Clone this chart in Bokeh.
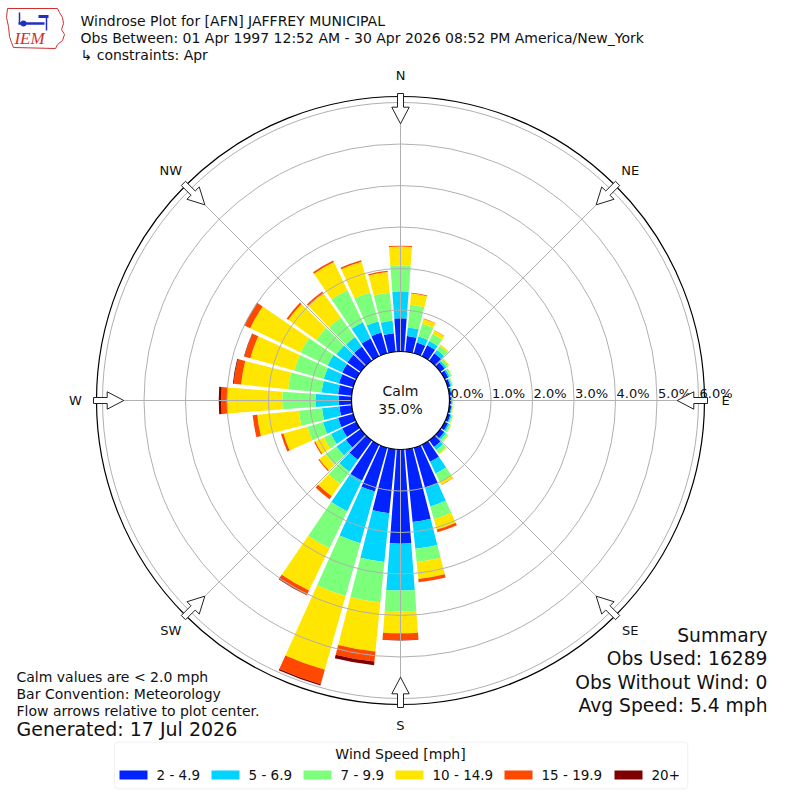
import math
from bokeh.plotting import figure
from bokeh.models import Range1d, BoxAnnotation
from bokeh.core.properties import value
from bokeh.embed import file_html
from bokeh.resources import INLINE

# ---------------- data ----------------
directions = list(range(0, 360, 10))  # compass degrees, meteorological (from)
speed_bins = ["2 - 4.9", "5 - 6.9", "7 - 9.9", "10 - 14.9", "15 - 19.9", "20+"]
bin_colors = ["#0023ff", "#00d4ff", "#7cff7a", "#ffe600", "#ff4800", "#7f0000"]

freq_2_5 = [0.80, 0.38, 0.27, 0.30, 0.22, 0.13, 0.10, 0.07, 0.05, 0.05, 0.05, 0.07,
            0.09, 0.12, 0.20, 0.46, 1.00, 1.76, 2.27, 1.55, 1.10, 0.96, 0.58, 0.44,
            0.38, 0.38, 0.30, 0.31, 0.33, 0.36, 0.38, 0.40, 0.42, 0.48, 0.52, 0.45]
freq_5_7 = [0.65, 0.21, 0.15, 0.11, 0.10, 0.05, 0.04, 0.03, 0.02, 0.02, 0.02, 0.03,
            0.04, 0.05, 0.09, 0.31, 0.47, 0.65, 1.13, 1.18, 1.29, 0.82, 0.35, 0.28,
            0.30, 0.38, 0.42, 0.56, 0.40, 0.38, 0.39, 0.32, 0.28, 0.43, 0.28, 0.30]
freq_7_10 = [0.62, 0.55, 0.32, 0.19, 0.12, 0.07, 0.05, 0.03, 0.02, 0.02, 0.02, 0.03,
             0.04, 0.06, 0.10, 0.23, 0.32, 0.32, 0.50, 0.98, 1.32, 0.99, 0.37, 0.32,
             0.19, 0.39, 0.56, 0.80, 0.81, 0.74, 0.72, 0.60, 0.58, 0.86, 0.72, 0.68]
freq_10_15 = [0.46, 0.27, 0.12, 0.09, 0.04, 0.02, 0.01, 0.00, 0.01, 0.00, 0.01, 0.01,
              0.01, 0.02, 0.03, 0.07, 0.26, 0.41, 0.53, 1.19, 1.85, 1.13, 0.36, 0.19,
              0.23, 0.60, 1.01, 1.33, 1.14, 1.10, 1.35, 0.83, 0.73, 0.75, 0.77, 0.50]
freq_15_20 = [0.02, 0.02, 0.01, 0.01, 0.00, 0.00, 0.00, 0.00, 0.00, 0.00, 0.00, 0.00,
              0.00, 0.00, 0.00, 0.01, 0.07, 0.08, 0.16, 0.24, 0.36, 0.12, 0.09, 0.03,
              0.03, 0.06, 0.11, 0.14, 0.18, 0.15, 0.15, 0.05, 0.04, 0.04, 0.04, 0.03]
freq_20_up = [0.00, 0.00, 0.00, 0.00, 0.00, 0.00, 0.00, 0.00, 0.00, 0.00, 0.00, 0.00,
              0.00, 0.00, 0.00, 0.00, 0.00, 0.00, 0.01, 0.09, 0.03, 0.01, 0.00, 0.00,
              0.00, 0.00, 0.00, 0.06, 0.02, 0.01, 0.01, 0.00, 0.00, 0.00, 0.00, 0.00]
series = [freq_2_5, freq_5_7, freq_7_10, freq_10_15, freq_15_20, freq_20_up]

calm_pct = 35.0
ring_pcts = [0, 1, 2, 3, 4, 5, 6]
ring_labels = ["0.0%", "1.0%", "2.0%", "3.0%", "4.0%", "5.0%", "6.0%"]
compass_labels = ["N", "NE", "E", "SE", "S", "SW", "W", "NW"]
compass_angles = [0, 45, 90, 135, 180, 225, 270, 315]

title_lines = ["Windrose Plot for [AFN] JAFFREY MUNICIPAL",
               "Obs Between: 01 Apr 1997 12:52 AM - 30 Apr 2026 08:52 PM America/New_York",
               "\u21b3 constraints: Apr"]
note_lines = ["Calm values are < 2.0 mph", "Bar Convention: Meteorology",
              "Flow arrows relative to plot center."]
generated = "Generated: 17 Jul 2026"
summary_lines = ["Summary", "Obs Used: 16289", "Obs Without Wind: 0", "Avg Speed: 5.4 mph"]
legend_title = "Wind Speed [mph]"

# ---------------- layout ----------------
FONT = value("DejaVu Sans")
R0 = 49.0      # radius of calm circle (0 %) in px
K = 41.5       # px per percent
R_OUT = 304.0  # outer frame circle
BAR_W = 8.6    # bar angular width in degrees


def rad(pct):
    return R0 + K * pct


def X(px):
    return px - 400.0


def Y(py):
    return 400.0 - py


p = figure(width=792, height=792, x_range=Range1d(-400, 392), y_range=Range1d(-392, 400),
           output_backend="svg", toolbar_location=None, min_border=0)
p.axis.visible = False
p.grid.visible = False
p.outline_line_color = None
p.background_fill_color = "white"

# ---------------- bars ----------------
cum = [0.0] * len(directions)
for vals, col in zip(series, bin_colors):
    inner = [rad(c) for c in cum]
    outer = [rad(c + v) for c, v in zip(cum, vals)]
    start = [math.radians(90 - d - BAR_W / 2) for d in directions]
    end = [math.radians(90 - d + BAR_W / 2) for d in directions]
    keep = [i for i, v in enumerate(vals) if v > 0]
    p.annular_wedge(x=0, y=0, inner_radius=[inner[i] for i in keep],
                    outer_radius=[outer[i] for i in keep],
                    start_angle=[start[i] for i in keep], end_angle=[end[i] for i in keep],
                    fill_color=col, line_color=None)
    cum = [c + v for c, v in zip(cum, vals)]

# ---------------- grid ----------------
grid_col = "#b0b0b0"
p.circle(x=0, y=0, radius=[rad(k) for k in ring_pcts[1:]], fill_color=None,
         line_color=grid_col, line_width=1)
for a in compass_angles:
    s, c = math.sin(math.radians(a)), math.cos(math.radians(a))
    p.line(x=[R0 * s, R_OUT * s], y=[R0 * c, R_OUT * c], line_color=grid_col, line_width=1)
p.circle(x=0, y=0, radius=R_OUT, fill_color=None, line_color="black", line_width=1.2)

# calm circle
p.circle(x=0, y=0, radius=rad(0), fill_color="white", line_color="black", line_width=1.2)
p.text(x=[0, 0], y=[Y(390), Y(408)], text=["Calm", "%.1f%%" % calm_pct], text_font=FONT,
       text_font_size="14px", text_align="center", text_baseline="middle", text_color="#111111")

# radial labels
p.text(x=[rad(k) + 1 for k in ring_pcts], y=[Y(392.5)] * len(ring_pcts), text=ring_labels,
       text_font=FONT, text_font_size="13px", text_align="left", text_baseline="middle",
       text_color="#111111")

# compass arrows
arrow_pts = [(307, -3), (293.3, -3), (293.3, -8.7), (276.7, 0), (293.3, 8.7), (293.3, 3), (307, 3)]
axs, ays = [], []
for a in compass_angles:
    s, c = math.sin(math.radians(a)), math.cos(math.radians(a))
    axs.append([r * s + t * c for r, t in arrow_pts])
    ays.append([r * c - t * s for r, t in arrow_pts])
p.patches(xs=axs, ys=ays, fill_color="white", line_color="#222222", line_width=1)

# compass labels
lab_r = 325
p.text(x=[lab_r * math.sin(math.radians(a)) for a in compass_angles],
       y=[lab_r * math.cos(math.radians(a)) for a in compass_angles],
       text=compass_labels, text_font=FONT, text_font_size="13px", text_align="center",
       text_baseline="middle", text_color="#111111")

# ---------------- header ----------------
p.text(x=[X(80)] * 3, y=[Y(20), Y(37), Y(54)], text=title_lines, text_font=FONT,
       text_font_size="14px", text_align="left", text_baseline="middle", text_color="#111111")

# IEM logo (decorative)
iowa_x = [7, 57, 59, 62, 63, 61, 64, 62, 57, 55, 13, 11, 9, 8, 6, 7]
iowa_y = [8, 8, 12, 17, 23, 29, 34, 40, 44, 48, 47, 42, 36, 26, 17, 8]
p.patch(x=[X(v) for v in iowa_x], y=[Y(v) for v in iowa_y], fill_color=None,
        line_color="#d03030", line_width=1)
p.line(x=[X(18), X(44)], y=[Y(23), Y(23)], line_color="#2030c0", line_width=2.5)
p.line(x=[X(19), X(19)], y=[Y(12), Y(23)], line_color="#2030c0", line_width=1.5)
p.line(x=[X(38), X(48)], y=[Y(16), Y(16)], line_color="#2030c0", line_width=3)
p.line(x=[X(46), X(46)], y=[Y(16), Y(30)], line_color="#2030c0", line_width=1.5)
p.scatter(x=[X(23)], y=[Y(23)], size=6, fill_color="#2030c0", line_color=None)
p.text(x=[X(29)], y=[Y(38)], text=["IEM"], text_font=value("Liberation Serif"),
       text_font_size="17px", text_font_style="italic", text_align="center",
       text_baseline="middle", text_color="#d03030")

# ---------------- notes ----------------
p.text(x=[X(16)] * 3, y=[Y(676), Y(693), Y(710)], text=note_lines, text_font=FONT,
       text_font_size="14px", text_align="left", text_baseline="middle", text_color="#111111")
p.text(x=[X(16)], y=[Y(728.5)], text=[generated], text_font=FONT, text_font_size="19px",
       text_align="left", text_baseline="middle", text_color="#111111")

p.text(x=[X(767)] * 4, y=[Y(635), Y(658.3), Y(681.7), Y(705)], text=summary_lines,
       text_font=FONT, text_font_size="18.7px", text_align="right", text_baseline="middle",
       text_color="#111111")

# ---------------- legend ----------------
p.add_layout(BoxAnnotation(left=X(114), right=X(687.3), top=Y(741.7), bottom=Y(788.3),
                           fill_color=None, line_color="#cccccc", line_width=1,
                           border_radius=4))
p.text(x=[X(400)], y=[Y(753.5)], text=[legend_title], text_font=FONT, text_font_size="14px",
       text_align="center", text_baseline="middle", text_color="#111111")
sw_left = [119, 211, 303, 395, 504, 614]
p.quad(left=[X(v) for v in sw_left], right=[X(v + 28) for v in sw_left],
       top=[Y(770)] * 6, bottom=[Y(779)] * 6, fill_color=bin_colors, line_color=None)
p.text(x=[X(v + 37) for v in sw_left], y=[Y(774.5)] * 6, text=speed_bins, text_font=FONT,
       text_font_size="13.5px", text_align="left", text_baseline="middle", text_color="#111111")

open("out.html", "w").write(file_html(p, INLINE))
